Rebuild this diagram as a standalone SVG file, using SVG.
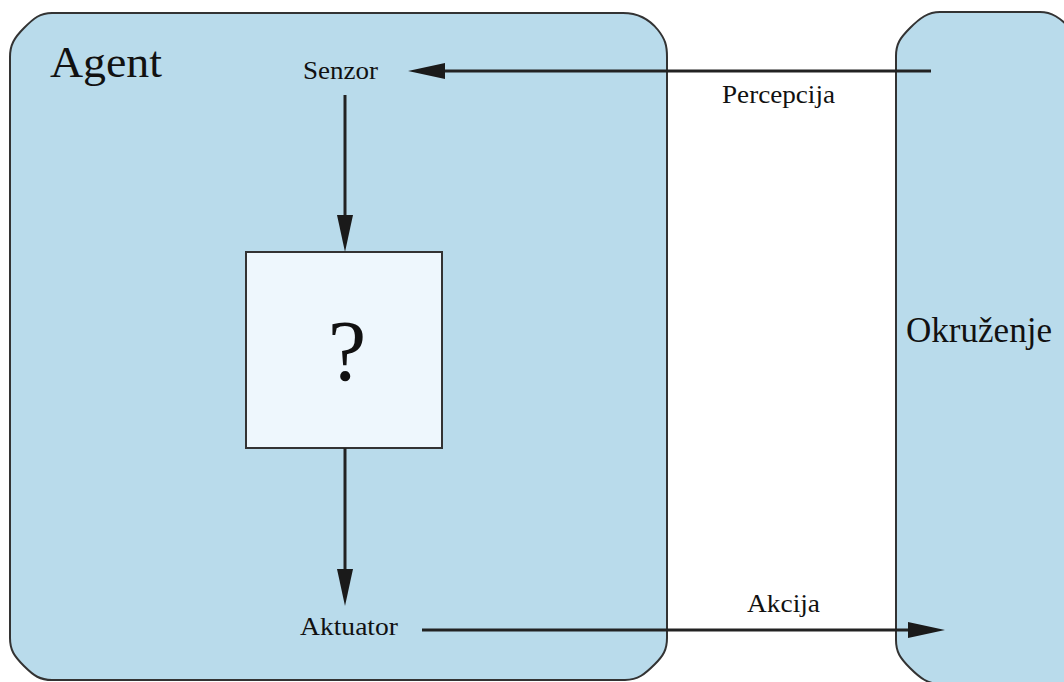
<svg xmlns="http://www.w3.org/2000/svg" width="1064" height="682" viewBox="0 0 1064 682">
<defs>
<style>
.region{fill:#b9dbeb;stroke:#333;stroke-width:2}
.box{fill:#eef7fd;stroke:#333;stroke-width:2}
.t{font-family:"Liberation Serif","Times New Roman",serif;fill:#111}
.s{font-size:25px}
.line{stroke:#222;stroke-width:3;fill:none}
.head{fill:#1a1a1a}
</style>
</defs>
<rect width="1064" height="682" fill="#fff"/>
<g id="agent">
<path class="region" d="M52,13 L623,13 C640,13 650,20 658,30 C665,39 667,45 667,57 L667,638 C667,650 663,656 655,664 C645,674 638,680 625,680 L52,680 C40,680 34,676 24,666 C14,656 10,650 10,638 L10,57 C10,45 14,38 24,28 C34,18 40,13 52,13 Z"/>
<text class="t" x="50" y="77" font-size="44" textLength="112" lengthAdjust="spacingAndGlyphs">Agent</text>
</g>
<g id="environment">
<path class="region" d="M940,12 L1040,12 C1052,12 1060,18 1070,28 L1070,684 L940,684 C928,684 920,678 910,668 C900,658 896,652 896,640 L896,56 C896,44 900,38 910,28 C920,18 928,12 940,12 Z"/>
<text class="t" x="906" y="342" font-size="36" textLength="146" lengthAdjust="spacingAndGlyphs">Okruženje</text>
</g>
<g id="senzor">
<text class="t s" x="303" y="79" textLength="75" lengthAdjust="spacingAndGlyphs">Senzor</text>
</g>
<g id="process">
<rect class="box" x="246" y="252" width="196" height="196"/>
<text class="t" x="347" y="380" font-size="86" text-anchor="middle">?</text>
</g>
<g id="aktuator">
<text class="t s" x="300" y="635" textLength="98" lengthAdjust="spacingAndGlyphs">Aktuator</text>
</g>
<g id="connectors">
<line class="line" x1="931" y1="71" x2="440" y2="71"/>
<polygon class="head" points="408,71 445,63 445,79"/>
<text class="t s" x="722" y="103" textLength="113" lengthAdjust="spacingAndGlyphs">Percepcija</text>
<line class="line" x1="345" y1="95" x2="345" y2="220"/>
<polygon class="head" points="345,252 337,215 353,215"/>
<line class="line" x1="345" y1="448" x2="345" y2="575"/>
<polygon class="head" points="345,606 337,569 353,569"/>
<line class="line" x1="422" y1="630" x2="912" y2="630"/>
<polygon class="head" points="945,630 908,622 908,638"/>
<text class="t s" x="747" y="612" textLength="73" lengthAdjust="spacingAndGlyphs">Akcija</text>
</g>
</svg>
